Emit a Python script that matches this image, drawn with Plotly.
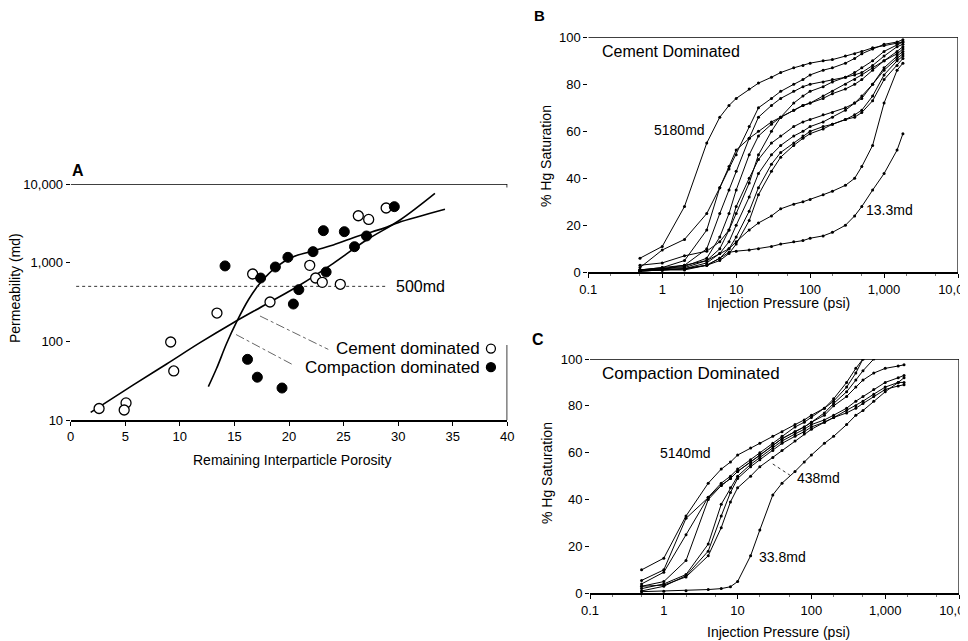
import plotly.graph_objects as go
import math

FONT = "Liberation Sans, Arial, Helvetica, sans-serif"

# ---------------- Panel A data ----------------
cement_x = [2.6, 5.07, 4.9, 9.16, 9.44, 13.4, 16.67, 18.26, 21.9, 22.44, 23.05, 24.7, 26.35, 27.3, 28.9]
cement_y = [14, 16.5, 13.4, 98, 42, 229, 718, 316, 925, 638, 562, 531, 3950, 3546, 4950]
compaction_x = [14.14, 17.4, 18.75, 19.9, 23.15, 25.07, 22.2, 23.4, 20.9, 20.4, 26.0, 27.1, 29.65, 16.2, 17.1, 19.36]
compaction_y = [909, 638, 881, 1169, 2553, 2477, 1380, 761, 454, 298, 1596, 2183, 5150, 59, 35, 25.5]

fit1_x = [1.83, 5.74, 8.79, 11.85, 14.9, 17.95, 21.0, 24.06, 27.1, 30.17, 33.37]
fit1_y = [12.5, 27.9, 51.5, 96.2, 172.6, 298.5, 520, 982, 1941, 3483, 7586]
fit2_x = [12.61, 13.37, 14.29, 15.21, 16.27, 17.34, 18.87, 20.4, 21.92, 24.06, 26.35, 28.64, 30.0, 34.29]
fit2_y = [26.5, 45.4, 94.4, 177.8, 335, 546, 889, 1191, 1380, 1679, 2183, 2729, 3221, 4764]

cutoff_x = [0.5, 28.9]
cutoff_y = [500, 500]
cement_leader_x = [17.34, 23.6]
cement_leader_y = [210, 79]
compaction_leader_x = [15.15, 20.4]
compaction_leader_y = [122, 50]
legend_x = [38.5, 38.5]
legend_y = [81, 47]

a_xticks = [0, 5, 10, 15, 20, 25, 30, 35, 40]
a_yticks = [10, 100, 1000, 10000]
a_yticktext = ["10", "100", "1,000", "10,000"]

# ---------------- Panels B, C data ----------------
pressure = [0.5, 1, 2, 4, 6, 8, 10, 15, 20, 30, 40, 60, 80, 100, 150, 200, 300, 400, 500, 700, 1000, 1500, 1800]

b_5180 = [6, 11, 28, 55, 66, 71, 74, 78, 80.5, 83, 85, 87, 88, 89, 90, 90.5, 92, 93, 94, 95.5, 96.5, 97.5, 98]
b_c2 = [2, 9.5, 14, 25, 36, 45, 52, 57, 60, 64, 66, 69, 71, 72, 75, 77, 80, 82, 84, 87, 90, 94, 96]
b_c3 = [1, 2, 5, 18, 36, 44, 50, 62, 70, 74, 77, 80, 82, 84, 86, 87, 89, 91, 93, 95, 97, 98, 99]
b_c4 = [1, 1.5, 3, 10, 25, 35, 43, 57, 66, 71, 74, 77, 79, 80, 81, 82, 83, 84, 85, 88, 92, 96, 97]
b_c5 = [1, 1.5, 2.5, 6, 15, 25, 35, 50, 58, 63, 66, 69, 71, 72, 74, 76, 78, 80, 82, 86, 90, 93, 95]
b_c6 = [1, 1.5, 2, 5, 10, 18, 28, 40, 48, 55, 58, 62, 64, 65, 67, 68, 70, 72, 74, 80, 87, 92, 94]
b_c7 = [1, 1, 1.5, 4, 8, 13, 20, 32, 42, 50, 54, 58, 60, 62, 64, 66, 69, 72, 75, 80, 86, 91, 93]
b_c8 = [0.5, 1, 1.5, 3, 6, 10, 15, 26, 36, 46, 51, 55, 58, 60, 62, 63, 65, 66, 68, 73, 82, 88, 91]
b_c9 = [0.5, 1, 1, 3, 5, 8, 12, 22, 33, 43, 49, 54, 57, 59, 61, 63, 65, 67, 69, 75, 84, 90, 92]
b_c10 = [3, 4, 7, 9, 13, 18, 25, 38, 50, 60, 66, 72, 75, 77, 79, 81, 83, 85, 87, 90, 94, 97, 98]
b_c11 = [1, 2, 3, 5, 8, 10, 13, 18, 21, 24, 27, 29, 30, 31, 33, 34.5, 37, 40, 45, 54, 72, 86, 89]
b_13_3 = [0.5, 1, 1.5, 3, 6, 8.5, 9, 9.5, 10, 11, 12, 13, 13.5, 14.5, 15.5, 17, 20, 24, 28, 35, 42, 52, 59]

c_5140 = [10, 15, 33, 47, 53, 56, 59, 62, 64, 67, 69, 72, 74, 76, 79, 82, 88, 94, 100, None, None, None, None]
c_c2 = [5.5, 10, 32, 41, 46, 49, 52, 56, 59, 63, 66, 69, 71, 73, 77, 81, 86, 91, 95, 100, None, None, None]
c_c3 = [4, 9, 25, 41, 47, 50, 53, 57, 60, 64, 67, 71, 73, 75, 79, 83, 90, 96, 100, None, None, None, None]
c_c4 = [3, 5, 14, 40, 46, 49, 52, 56, 59, 63, 66, 69, 71, 73, 76, 80, 84, 88, 91, 94, 96, 97, 97.5]
c_c5 = [2, 4, 8, 21, 38, 45, 50, 55, 58, 62, 65, 68, 70, 72, 74, 76, 79, 82, 84, 87, 90, 92, 93]
c_c6 = [1, 3, 7.5, 18, 33, 43, 49, 54, 57, 61, 64, 67, 69, 71, 73, 75, 78, 80, 82, 85, 88, 90, 90]
c_438 = [3, 3.5, 7, 16, 28, 39, 45, 50, 54, 58, 61, 65, 68, 70, 73, 75, 77, 79, 81, 84, 87, 88.5, 89]
c_33_8 = [0.7, 0.9, 1.1, 1.6, 2, 2.8, 5, 16, 27, 42, 47, 52, 56, 59, 64, 67, 72, 76, 78, 82, 86, 90, 92]

b_series = [b_5180, b_c2, b_c3, b_c4, b_c5, b_c6, b_c7, b_c8, b_c9, b_c10, b_c11, b_13_3]
c_series = [c_5140, c_c2, c_c3, c_c4, c_c5, c_c6, c_438, c_33_8]

bc_xticks = [0.1, 1, 10, 100, 1000, 10000]
bc_xticktext = ["0.1", "1", "10", "100", "1,000", "10,000"]
bc_yticks = [0, 20, 40, 60, 80, 100]

# page body has an 8px default margin: figure is 960x633 and placed at (8, 8)
W, H, OFF = 960.0, 633.0, 8.0
def px(x):
    return (x - OFF) / W
def py(y):
    return 1 - (y - OFF) / H

fig = go.Figure()

# ---- Panel A ----
line_a = dict(color="black", width=1.6)
fig.add_trace(go.Scatter(x=fit1_x, y=fit1_y, mode="lines", line=dict(shape="spline", **line_a),
                         xaxis="x", yaxis="y", showlegend=False))
fig.add_trace(go.Scatter(x=fit2_x, y=fit2_y, mode="lines", line=dict(shape="spline", **line_a),
                         xaxis="x", yaxis="y", showlegend=False))
fig.add_trace(go.Scatter(x=cutoff_x, y=cutoff_y, mode="lines", line=dict(color="#333", width=1, dash="dot"),
                         xaxis="x", yaxis="y", showlegend=False))
fig.add_trace(go.Scatter(x=cement_leader_x, y=cement_leader_y, mode="lines",
                         line=dict(color="#666", width=1, dash="dashdot"), xaxis="x", yaxis="y", showlegend=False))
fig.add_trace(go.Scatter(x=compaction_leader_x, y=compaction_leader_y, mode="lines",
                         line=dict(color="#666", width=1, dash="dashdot"), xaxis="x", yaxis="y", showlegend=False))
fig.add_trace(go.Scatter(x=cement_x, y=cement_y, mode="markers",
                         marker=dict(symbol="circle", size=10, color="white", line=dict(color="black", width=1.3)),
                         xaxis="x", yaxis="y", showlegend=False))
fig.add_trace(go.Scatter(x=compaction_x, y=compaction_y, mode="markers",
                         marker=dict(symbol="circle", size=10, color="black", line=dict(color="black", width=1)),
                         xaxis="x", yaxis="y", showlegend=False))
fig.add_trace(go.Scatter(x=legend_x, y=legend_y, mode="markers",
                         marker=dict(symbol="circle", size=9, color=["white", "black"], line=dict(color="black", width=1.3)),
                         xaxis="x", yaxis="y", showlegend=False))

# ---- Panels B and C ----
for s in b_series:
    fig.add_trace(go.Scatter(x=pressure, y=s, mode="lines+markers", line=dict(color="black", width=1),
                             marker=dict(size=3, color="black"), xaxis="x2", yaxis="y2", showlegend=False))
for s in c_series:
    fig.add_trace(go.Scatter(x=pressure, y=s, mode="lines+markers", line=dict(color="black", width=1),
                             marker=dict(size=3, color="black"), xaxis="x3", yaxis="y3", showlegend=False))

def axstyle(size):
    return dict(showgrid=False, zeroline=False, ticks="outside", ticklen=4, tickcolor="black",
                tickfont=dict(family=FONT, size=size, color="black"), linecolor="black")

minor = dict(ticks="outside", ticklen=2, tickcolor="#777", showgrid=False)

fig.update_layout(
    width=int(W), height=int(H), margin=dict(l=0, r=0, t=0, b=0, autoexpand=False),
    paper_bgcolor="white", plot_bgcolor="white",
    xaxis=dict(domain=[px(70.7), px(507.3)], range=[0, 40], tickvals=a_xticks, showline=True, linewidth=1.5,
               anchor="y", **axstyle(13)),
    yaxis=dict(domain=[py(420), py(184)], type="log", range=[1, 4], tickvals=a_yticks, ticktext=a_yticktext,
               showline=False, anchor="x", **axstyle(13)),
    xaxis2=dict(domain=[px(588.3), px(958)], type="log", range=[-1, 4], tickvals=bc_xticks, ticktext=bc_xticktext,
                showline=True, linewidth=1.5, anchor="y2", minor=minor, ticklabeloverflow="allow",
                **axstyle(13)),
    yaxis2=dict(domain=[py(272.3), py(37.3)], range=[0, 100], tickvals=bc_yticks, showline=False, anchor="x2",
                **axstyle(13)),
    xaxis3=dict(domain=[px(590), px(959)], type="log", range=[-1, 4], tickvals=bc_xticks, ticktext=bc_xticktext,
                showline=True, linewidth=1.5, anchor="y3", minor=minor, ticklabeloverflow="allow",
                **axstyle(13)),
    yaxis3=dict(domain=[py(593.3), py(359)], range=[0, 100], tickvals=bc_yticks, showline=False, anchor="x3",
                **axstyle(13)),
)

# frame lines (shape coordinates on log axes are data values)
shapes = [
    dict(type="line", xref="x", yref="y", x0=0, x1=40, y0=10000, y1=10000, line=dict(color="black", width=1.6)),
    dict(type="line", xref="x", yref="y", x0=40, x1=40, y0=10, y1=90, line=dict(color="black", width=1.5)),
    dict(type="line", xref="x", yref="y", x0=40, x1=40, y0=10000, y1=9000, line=dict(color="black", width=1.5)),
    dict(type="line", xref="x2", yref="y2", x0=0.1, x1=10000, y0=100, y1=100, line=dict(color="black", width=1.4)),
    dict(type="line", xref="x2", yref="y2", x0=10000, x1=10000, y0=0, y1=100, line=dict(color="black", width=1.2)),
    dict(type="line", xref="x3", yref="y3", x0=0.1, x1=10000, y0=100, y1=100, line=dict(color="black", width=1.6)),
    dict(type="line", xref="x3", yref="y3", x0=10000, x1=10000, y0=0, y1=100, line=dict(color="black", width=1.2)),
    # 438md leader
    dict(type="line", xref="x3", yref="y3", x0=30, x1=56, y0=55.2, y1=49.6,
         line=dict(color="#333", width=1, dash="dot")),
]
fig.update_layout(shapes=shapes)

def ann(text, x, y, xref="paper", yref="paper", size=12, xanchor="center", yanchor="middle", angle=0, bold=False):
    return dict(text=("<b>%s</b>" % text) if bold else text, x=x, y=y, xref=xref, yref=yref, showarrow=False,
                xanchor=xanchor, yanchor=yanchor, textangle=angle,
                font=dict(family=FONT, size=size, color="black"))

annotations = [
    ann("A", px(78), py(170), size=16, bold=True),
    ann("B", px(539), py(16), size=15, bold=True),
    ann("C", px(538), py(339), size=16, bold=True),
    ann("Permeability (md)", px(15), py(288), size=14, angle=-90),
    ann("Remaining Interparticle Porosity", px(292), py(460), size=14),
    ann("% Hg Saturation", px(546), py(156), size=14, angle=-90),
    ann("Injection Pressure (psi)", px(778), py(303), size=14),
    ann("% Hg Saturation", px(547), py(473), size=14, angle=-90),
    ann("Injection Pressure (psi)", px(778), py(632), size=14),
    ann("500md", 29.6, math.log10(500), xref="x", yref="y", size=16, xanchor="left"),
    ann("Cement dominated", 37.7, math.log10(81), xref="x", yref="y", size=17, xanchor="right"),
    ann("Compaction dominated", 37.7, math.log10(47), xref="x", yref="y", size=17, xanchor="right"),
    ann("Cement Dominated", math.log10(0.144), 94, xref="x2", yref="y2", size=16, xanchor="left"),
    ann("5180md", math.log10(1.73), 60.5, xref="x2", yref="y2", size=14),
    ann("13.3md", math.log10(1200), 26.5, xref="x2", yref="y2", size=14),
    ann("Compaction Dominated", math.log10(0.137), 94, xref="x3", yref="y3", size=17, xanchor="left"),
    ann("5140md", math.log10(1.94), 60, xref="x3", yref="y3", size=14),
    ann("438md", math.log10(125), 49, xref="x3", yref="y3", size=14),
    ann("33.8md", math.log10(41), 15.5, xref="x3", yref="y3", size=14),
]
fig.update_layout(annotations=annotations)

fig.write_html("out.html")
